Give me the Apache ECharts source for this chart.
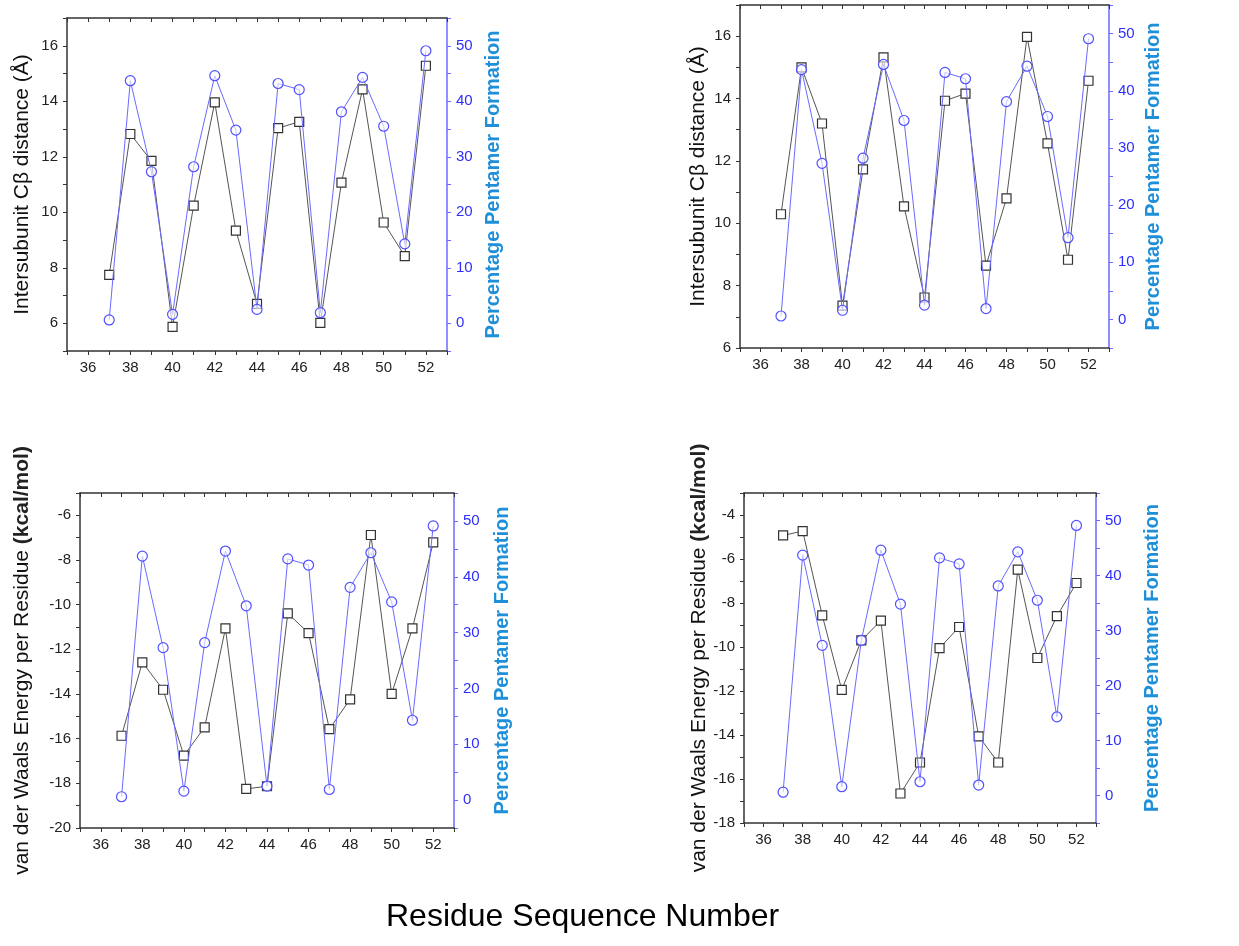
<!DOCTYPE html>
<html>
<head>
<meta charset="utf-8">
<script src="https://cdn.jsdelivr.net/npm/echarts@6/dist/echarts.min.js"></script>
<style>
html,body{margin:0;padding:0;background:#fff;}
#c{width:1239px;height:946px;}
</style>
</head>
<body>
<div id="c"></div>
<script>
// ---- data ----
const residues = [37,38,39,40,41,42,43,44,45,46,47,48,49,50,51,52];
const pentamerPct = [0.6,43.7,27.3,1.6,28.2,44.6,34.8,2.5,43.2,42.1,1.9,38.1,44.3,35.5,14.3,49.1];
const cbDistanceA = [7.74,12.82,11.85,5.87,10.24,13.96,9.34,6.70,13.03,13.26,6.01,11.07,14.43,9.63,8.42,15.28];
const cbDistanceB = [10.29,15.0,13.2,7.36,11.73,15.32,10.54,7.62,13.93,14.16,8.64,10.80,15.98,12.56,8.83,14.57];
const vdwEnergyA = [-15.87,-12.58,-13.81,-16.76,-15.49,-11.06,-18.25,-18.13,-10.39,-11.27,-15.57,-14.24,-6.88,-13.99,-11.06,-7.21];
const vdwEnergyB = [-4.93,-4.73,-8.56,-11.95,-9.70,-8.80,-16.66,-15.25,-10.05,-9.09,-14.06,-15.25,-6.48,-10.50,-8.60,-7.09];
const xTickLabels = [36,38,40,42,44,46,48,50,52];
const pctTickLabels = [0,10,20,30,40,50];

const FONT = '"Liberation Sans", Arial, sans-serif';
const DARK = '#333';
const BLUE_LINE = '#6a6aff';
const BLUE_LABEL = '#2e2eff';
const TITLE_BLUE = '#1e8fd8';

const panels = [
  {grid:{left:67, top:18, width:380, height:333}, left:cbDistanceA, ymin:5, ymax:17,
   leftName:'Intersubunit Cβ distance (Å)', leftGap:34, rightGap:36},
  {grid:{left:740, top:5, width:369, height:343}, left:cbDistanceB, ymin:6, ymax:17,
   leftName:'Intersubunit Cβ distance (Å)', leftGap:31, rightGap:34},
  {grid:{left:80, top:493, width:374, height:335}, left:vdwEnergyA, ymin:-20, ymax:-5,
   leftName:'{a|van der Waals Energy per Residue }{b|(kcal/mol)}', leftGap:47, rightGap:38},
  {grid:{left:744, top:493, width:352, height:330}, left:vdwEnergyB, ymin:-18, ymax:-3,
   leftName:'{a|van der Waals Energy per Residue }{b|(kcal/mol)}', leftGap:32, rightGap:46}
];

const grids=[], xAxes=[], yAxes=[], series=[];
const evenOnly = v => (Math.round(v) % 2 === 0 ? String(v) : '');

panels.forEach((p, g) => {
  grids.push(Object.assign({}, p.grid));
  // bottom x axis
  xAxes.push({
    type:'value', gridIndex:g, min:35, max:53, interval:1, position:'bottom',
    axisLine:{onZero:false, lineStyle:{color:DARK, width:1.5}},
    axisTick:{inside:false, length:4, lineStyle:{color:DARK}},
    axisLabel:{color:'#222', fontSize:15, fontFamily:FONT, margin:9,
      formatter: v => (xTickLabels.indexOf(v) >= 0 ? String(v) : '')},
    splitLine:{show:false}
  });
  // top x axis (frame)
  xAxes.push({
    type:'value', gridIndex:g, min:35, max:53, interval:1, position:'top',
    axisLine:{onZero:false, lineStyle:{color:DARK, width:1.5}},
    axisTick:{inside:true, length:4, lineStyle:{color:DARK}},
    axisLabel:{show:false}, splitLine:{show:false}
  });
  // left y axis
  yAxes.push({
    type:'value', gridIndex:g, min:p.ymin, max:p.ymax, interval:1, position:'left',
    axisLine:{show:true, onZero:false, lineStyle:{color:DARK, width:1.5}},
    axisTick:{show:true, inside:false, length:4, lineStyle:{color:DARK}},
    axisLabel:{color:'#222', fontSize:15, fontFamily:FONT, margin:9, formatter: evenOnly},
    splitLine:{show:false},
    name:p.leftName, nameLocation:'middle', nameRotate:90, nameGap:p.leftGap,
    nameTextStyle:{color:'#111', fontSize:21, fontFamily:FONT,
      rich:{a:{fontSize:21, fontFamily:FONT, color:'#111'}, b:{fontSize:21, fontFamily:FONT, color:'#222', fontWeight:'bold'}}}
  });
  // right y axis
  yAxes.push({
    type:'value', gridIndex:g, min:-5, max:55, interval:5, position:'right',
    axisLine:{show:true, onZero:false, lineStyle:{color:BLUE_LINE, width:1.5}},
    axisTick:{show:true, inside:false, length:4, lineStyle:{color:BLUE_LINE}},
    axisLabel:{color:BLUE_LABEL, fontSize:15, fontFamily:FONT, margin:9,
      formatter: v => (pctTickLabels.indexOf(v) >= 0 ? String(v) : '')},
    splitLine:{show:false},
    name:'Percentage Pentamer Formation', nameLocation:'middle', nameRotate:90, nameGap:p.rightGap,
    nameTextStyle:{color:TITLE_BLUE, fontSize:20, fontWeight:'bold', fontFamily:FONT}
  });
  series.push({
    type:'line', xAxisIndex:2*g, yAxisIndex:2*g,
    data: residues.map((r,i)=>[r, p.left[i]]),
    symbol:'rect', symbolSize:9,
    lineStyle:{color:'#555', width:1},
    itemStyle:{color:'#fff', borderColor:'#333', borderWidth:1.2},
    z:2, animation:false
  });
  series.push({
    type:'line', xAxisIndex:2*g, yAxisIndex:2*g+1,
    data: residues.map((r,i)=>[r, pentamerPct[i]]),
    symbol:'circle', symbolSize:10,
    lineStyle:{color:BLUE_LINE, width:1},
    itemStyle:{color:'rgba(255,255,255,0.6)', borderColor:'#5050ff', borderWidth:1.2},
    z:3, animation:false
  });
});

const chart = echarts.init(document.getElementById('c'), null, {renderer:'canvas'});
chart.setOption({
  backgroundColor:'#fff',
  animation:false,
  grid:grids, xAxis:xAxes, yAxis:yAxes, series:series,
  graphic:[{
    type:'text', left:386, top:901,
    style:{text:'Residue Sequence Number', fontSize:32, fontFamily:FONT, fill:'#000'}
  }]
});
</script>
</body>
</html>
